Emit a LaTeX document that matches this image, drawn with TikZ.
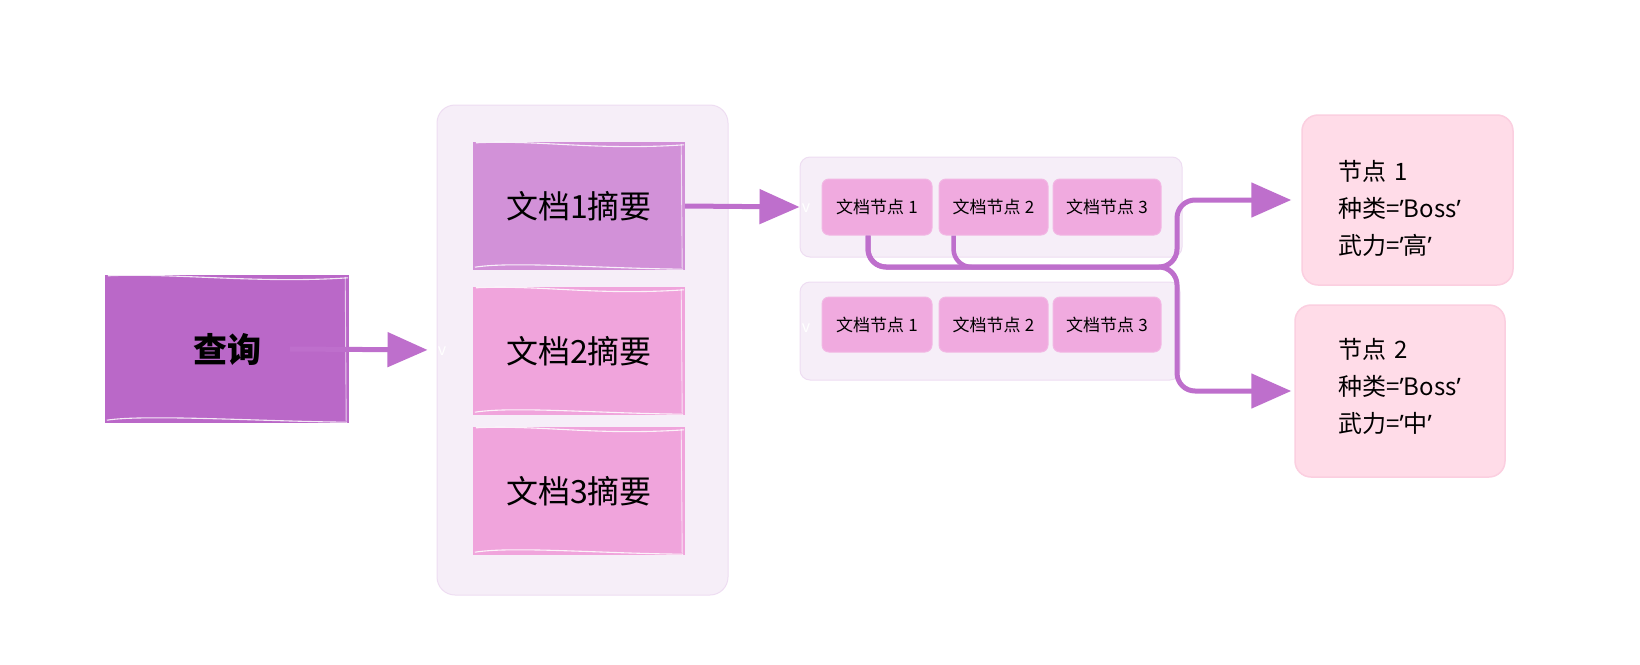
\documentclass[tikz,border=0pt]{standalone}
\usepackage{fontspec}
\setmainfont{Noto Sans CJK SC}
\newfontfamily\latinfont{Noto Sans}
\usetikzlibrary{arrows.meta,calc}
\definecolor{qpurple}{HTML}{BA68C8}
\definecolor{dpurple}{HTML}{D291D8}
\definecolor{dpink}{HTML}{F0A4DC}
\definecolor{npink}{HTML}{F0AADF}
\definecolor{rpink}{HTML}{FFDCE8}
\definecolor{rborder}{HTML}{FBCFE0}
\definecolor{lav}{HTML}{F6EEF8}
\definecolor{lavb}{HTML}{EEDDF2}
\definecolor{arrc}{HTML}{BE6FCC}
\newcommand\sketchbox[1]{%
  \draw[white, line width=1.1pt, opacity=.85]
    ([xshift=3pt,yshift=-1pt]#1.north west) .. controls ([xshift=70pt,yshift=2pt]#1.north west) and ([xshift=-90pt,yshift=-9pt]#1.north east) .. ([xshift=-1pt,yshift=-3pt]#1.north east);
  \draw[white, line width=1.1pt, opacity=.85]
    ([xshift=2pt,yshift=3pt]#1.south west) .. controls ([xshift=40pt,yshift=9pt]#1.south west) and ([xshift=-90pt,yshift=2pt]#1.south east) .. ([xshift=-2pt,yshift=1pt]#1.south east);
  \draw[white, line width=0.9pt, opacity=.7]
    ([xshift=-4pt,yshift=-2pt]#1.north east) -- ([xshift=-3pt,yshift=2pt]#1.south east);
}
\newcommand\qt{{\latinfont ’}}
\newcommand\lt[1]{{\latinfont #1}}
\begin{document}
\begin{tikzpicture}[x=1pt,y=-1pt,
  qbox/.style={fill=qpurple, minimum width=244pt, minimum height=148pt, inner sep=0pt,
    font=\fontsize{34}{40}\selectfont\bfseries},
  dbox/.style={minimum width=212pt, minimum height=128pt, inner sep=0pt,
    font=\fontsize{32}{38}\selectfont},
  cont/.style={fill=lav, draw=lavb, line width=1pt, inner sep=0pt},
  nbox/.style={fill=npink, draw=npink!85!white, line width=1pt, rounded corners=7pt,
    minimum height=56pt, inner sep=0pt, font=\fontsize{17}{20}\selectfont},
  rbox/.style={fill=rpink, draw=rborder, line width=1.5pt, rounded corners=16pt, inner sep=0pt},
  rtext/.style={text width=139pt, inner sep=0pt, align=left, font=\fontsize{24}{37}\selectfont},
  arr/.style={draw=arrc, line width=5pt, -{Triangle[length=40pt,width=34pt]}},
  link/.style={draw=arrc, line width=4.5pt},
  vmark/.style={text=white, font=\fontsize{16}{18}\selectfont, inner sep=0pt}
]
\useasboundingbox (0,0) rectangle (1640,664);
\fill[white] (0,0) rectangle (1640,664);

% query
\node[qbox] (q) at (227,349) {查询};
\sketchbox{q}

% big container
\node[cont, rounded corners=18pt, minimum width=291pt, minimum height=490pt] (c) at (582.5,350) {};
\node[dbox, fill=dpurple] (d1) at (579,206) {文档1摘要};
\node[dbox, fill=dpink] (d2) at (579,351) {文档2摘要};
\node[dbox, fill=dpink] (d3) at (579,491) {文档3摘要};
\sketchbox{d1}
\sketchbox{d2}
\sketchbox{d3}

% node containers
\node[cont, rounded corners=10pt, minimum width=382pt, minimum height=100pt] (tc) at (991,207) {};
\node[cont, rounded corners=10pt, minimum width=380pt, minimum height=98pt] (bc) at (990,331) {};
\node[nbox, minimum width=110pt] (n1) at (877,207) {文档节点\lt{ }1};
\node[nbox, minimum width=109pt] (n2) at (993.5,207) {文档节点\lt{ }2};
\node[nbox, minimum width=108pt] (n3) at (1107,207) {文档节点\lt{ }3};
\node[nbox, minimum width=110pt, minimum height=55pt] (m1) at (877,324.5) {文档节点\lt{ }1};
\node[nbox, minimum width=109pt, minimum height=55pt] (m2) at (993.5,324.5) {文档节点\lt{ }2};
\node[nbox, minimum width=108pt, minimum height=55pt] (m3) at (1107,324.5) {文档节点\lt{ }3};

% right boxes
\node[rbox, minimum width=211pt, minimum height=170pt] (r1) at (1407.5,200) {};
\node[rbox, minimum width=210pt, minimum height=172pt] (r2) at (1400,391) {};
\node[rtext, anchor=west] (t1) at (1338,208) {节点\lt{ }1\\种类=\qt Boss\qt\\武力=\qt 高\qt};
\node[rtext, anchor=west] (t2) at (1338,386) {节点\lt{ }2\\种类=\qt Boss\qt\\武力=\qt 中\qt};

% white marks
\node[vmark] (v1) at (442,351) {v};
\node[vmark] (v2) at (806,208) {v};
\node[vmark] (v3) at (806,328) {v};

% connectors
\coordinate (k) at (1177,267);
\coordinate (j) at (1060,267);
\draw[arr, shorten >=9pt] ([xshift=63pt]q.center) -- (c.west);
\draw[arr] (d1.east) -- (tc.west);
\draw[link, rounded corners=18pt] ([xshift=-40pt]n2.south) |- (j);
\draw[arr, rounded corners=18pt, shorten >=10pt] ([xshift=-9pt]n1.south) |- (k) |- (r1.west);
\draw[arr, rounded corners=18pt, shorten >=3pt] ([xshift=-9pt]n1.south) |- (k) |- (r2.west);
\end{tikzpicture}
\end{document}
